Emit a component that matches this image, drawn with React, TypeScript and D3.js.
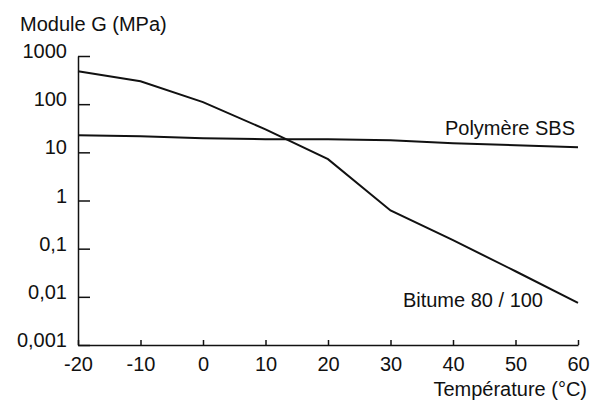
import * as d3 from "d3";
import React, { useEffect, useRef } from "react";

// temperatures (°C)
const temps = [-20, -10, 0, 10, 20, 30, 40, 50, 60];
// module G (MPa)
const bitume = [480, 300, 110, 30, 7.2, 0.62, 0.15, 0.034, 0.0075];
const polymere = [22.5, 21.5, 19.6, 18.7, 18.7, 17.8, 15.4, 14, 12.7];
const yTicks = [0.001, 0.01, 0.1, 1, 10, 100, 1000];
const xTicks = [-20, -10, 0, 10, 20, 30, 40, 50, 60];

const fmtY = (v: number) => String(v).replace(".", ",");

export default function App() {
  const svgRef = useRef<SVGSVGElement>(null);
  const width = 591;
  const height = 400;
  const font = "'Liberation Sans', Arial, Helvetica, sans-serif";

  useEffect(() => {
    const svg = d3.select(svgRef.current);
    svg.selectAll("*").remove();

    const x = d3.scaleLinear().domain([-20, 60]).range([78, 578]);
    const y = d3.scaleLog().domain([0.001, 1000]).range([345, 56]);

    // y axis, ticks pointing inwards
    const yAxis = d3
      .axisLeft(y)
      .tickValues(yTicks)
      .tickFormat((d) => fmtY(d as number))
      .tickSizeInner(-12)
      .tickSizeOuter(0)
      .tickPadding(11);
    const gy = svg.append("g").attr("transform", "translate(78,0)").call(yAxis);
    gy.selectAll("text").attr("dy", "0.08em");

    const xAxis = d3
      .axisBottom(x)
      .tickValues(xTicks)
      .tickFormat((d) => String(d))
      .tickSizeInner(-5)
      .tickSizeOuter(0)
      .tickPadding(12);
    svg.append("g").attr("transform", "translate(0,345)").call(xAxis);

    svg
      .selectAll(".tick text")
      .attr("font-family", font)
      .attr("font-size", 20)
      .attr("fill", "#111");
    svg.selectAll(".domain, .tick line").attr("stroke", "#111").attr("stroke-width", 1.5);

    const line = d3
      .line<number>()
      .x((_, i) => x(temps[i]))
      .y((d) => y(d));

    svg
      .append("path")
      .datum(polymere)
      .attr("d", line)
      .attr("fill", "none")
      .attr("stroke", "#111")
      .attr("stroke-width", 2);

    svg
      .append("path")
      .datum(bitume)
      .attr("d", line)
      .attr("fill", "none")
      .attr("stroke", "#111")
      .attr("stroke-width", 2);

    const label = (txt: string, px: number, py: number, anchor: string) =>
      svg
        .append("text")
        .attr("x", px)
        .attr("y", py)
        .attr("text-anchor", anchor)
        .attr("font-family", font)
        .attr("font-size", 20)
        .attr("fill", "#111")
        .text(txt);

    label("Module G (MPa)", 20, 31, "start");
    label("Polymère SBS", 575, 135, "end");
    label("Bitume 80 / 100", 543, 307, "end");
    label("Température (°C)", 587, 396, "end");
  });

  return (
    <svg
      ref={svgRef}
      width={width}
      height={height}
      style={{ position: "absolute", left: 0, top: 0, background: "#fff" }}
    ></svg>
  );
}
